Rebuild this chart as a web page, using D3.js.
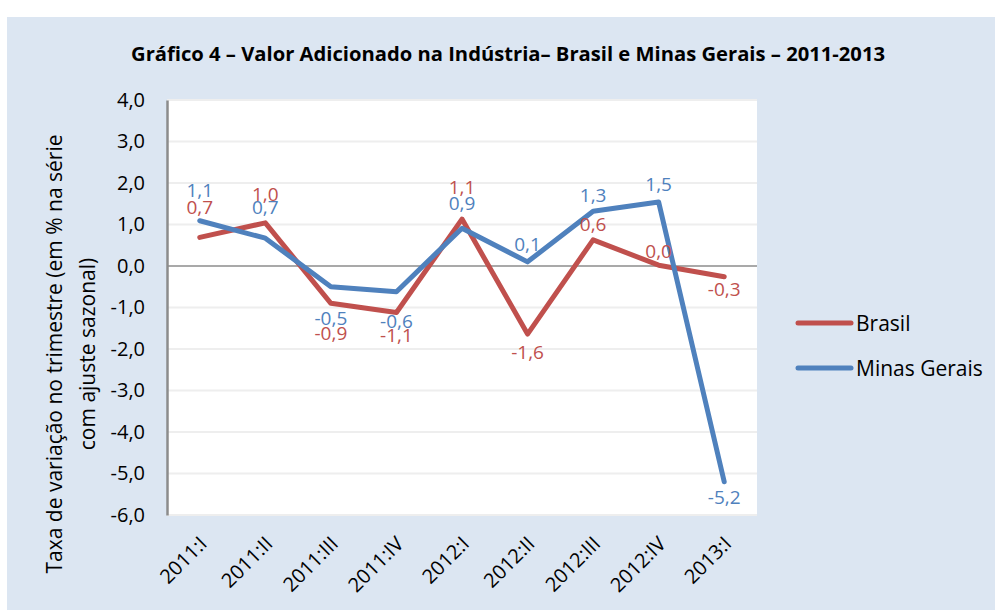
<!DOCTYPE html>
<html>
<head>
<meta charset="utf-8">
<script src="https://cdn.jsdelivr.net/npm/d3@7"></script>
<style>
  body { margin: 0; background: #ffffff; }
  svg text { font-family: "Open Sans", Lato, sans-serif; }
</style>
</head>
<body>
<div id="chart"></div>
<script>
////// DATA
var categories = ["2011:I", "2011:II", "2011:III", "2011:IV", "2012:I", "2012:II", "2012:III", "2012:IV", "2013:I"];
var brasil = [0.69, 1.04, -0.90, -1.12, 1.13, -1.64, 0.63, 0.02, -0.26];
var minas = [1.09, 0.67, -0.50, -0.62, 0.91, 0.10, 1.32, 1.54, -5.20];
var yTicks = [4, 3, 2, 1, 0, -1, -2, -3, -4, -5, -6];

// label offsets (px, + means below the point)
var brasilLabelDy = [-30, -29, 30, 23, -32, 18, -16, -14, 12];
var minasLabelDy = [-31, -31, 31, 29, -25, -18, -16, -18, 15];

////// SETUP SVG
var W = 995, H = 613;
var margin = { top: 100, right: 238, bottom: 98, left: 167 },
    width = W - margin.left - margin.right,
    height = H - margin.top - margin.bottom;

var svg = d3.select("#chart")
    .append("svg")
    .attr("width", W)
    .attr("height", H);

// blue chart area
svg.append("rect")
    .attr("x", 7).attr("y", 17)
    .attr("width", W - 7).attr("height", 593)
    .attr("fill", "#dce6f2");

var br = d3.formatLocale({ decimal: ",", thousands: ".", grouping: [3], currency: ["R$", ""], minus: "-" });
var fmt = br.format(".1f");

var x = d3.scalePoint()
    .domain(categories)
    .range([margin.left, margin.left + width])
    .padding(0.5);

var y = d3.scaleLinear()
    .domain([-6, 4])
    .range([margin.top + height, margin.top]);

// white plot area
svg.append("rect")
    .attr("x", margin.left).attr("y", margin.top)
    .attr("width", width).attr("height", height)
    .attr("fill", "#ffffff");

// gridlines
svg.append("g")
    .selectAll("line")
    .data(yTicks.filter(d => d !== 0))
    .enter().append("line")
    .attr("x1", margin.left).attr("x2", margin.left + width)
    .attr("y1", d => y(d)).attr("y2", d => y(d))
    .attr("stroke", "#eeeeee")
    .attr("stroke-width", 2);

// zero line
svg.append("line")
    .attr("x1", margin.left).attr("x2", margin.left + width)
    .attr("y1", y(0)).attr("y2", y(0))
    .attr("stroke", "#8c8c8c")
    .attr("stroke-width", 1.5);

////// Y AXIS
var yAxis = svg.append("g")
    .attr("transform", "translate(" + margin.left + ",0)")
    .call(d3.axisLeft(y).tickValues(yTicks).tickFormat(fmt).tickSize(0).tickPadding(22));
yAxis.select(".domain").attr("stroke", "#8c8c8c").attr("stroke-width", 2.5);
yAxis.selectAll("text")
    .attr("font-size", "20px")
    .attr("fill", "#000");

////// X AXIS
var xAxis = svg.append("g")
    .attr("transform", "translate(0," + (margin.top + height) + ")")
    .call(d3.axisBottom(x).tickSize(0));
xAxis.select(".domain").remove();
xAxis.selectAll("text")
    .attr("font-size", "20px")
    .attr("fill", "#000")
    .style("text-anchor", "end")
    .attr("dy", "0")
    .attr("y", 0)
    .attr("transform", "translate(8,30) rotate(-45)");

////// Y AXIS TITLE
var yTitle = svg.append("text")
    .attr("transform", "translate(0,354) rotate(-90)")
    .attr("text-anchor", "middle")
    .attr("font-size", "21px")
    .attr("fill", "#000");
yTitle.append("tspan").attr("x", 0).attr("y", 62).text("Taxa de variação no trimestre (em % na série");
yTitle.append("tspan").attr("x", 0).attr("y", 95).text("com ajuste sazonal)");

////// TITLE
svg.append("text")
    .attr("x", 508).attr("y", 61)
    .attr("text-anchor", "middle")
    .attr("font-size", "20.2px")
    .attr("font-weight", "bold")
    .attr("fill", "#000")
    .text("Gráfico 4 – Valor Adicionado na Indústria– Brasil e Minas Gerais – 2011-2013");

////// LINES
var series = [
    { name: "Brasil", values: brasil, color: "#c0504d", dy: brasilLabelDy },
    { name: "Minas Gerais", values: minas, color: "#4f81bd", dy: minasLabelDy }
];

var line = d3.line()
    .x((d, i) => x(categories[i]))
    .y(d => y(d));

series.forEach(function(s) {
    svg.append("path")
        .datum(s.values)
        .attr("d", line)
        .attr("fill", "none")
        .attr("stroke", s.color)
        .attr("stroke-width", 5)
        .attr("stroke-linejoin", "round")
        .attr("stroke-linecap", "round");
});

// data labels
series.forEach(function(s) {
    svg.append("g")
        .selectAll("text")
        .data(s.values)
        .enter().append("text")
        .attr("x", (d, i) => x(categories[i]))
        .attr("y", (d, i) => y(d) + s.dy[i])
        .attr("dominant-baseline", "central")
        .attr("text-anchor", "middle")
        .attr("font-size", "19px")
        .attr("fill", s.color)
        .text(d => fmt(d));
});

////// LEGEND
var legend = svg.append("g")
    .selectAll("g")
    .data(series)
    .enter().append("g")
    .attr("transform", (d, i) => "translate(798," + (323 + i * 45) + ")");
legend.append("line")
    .attr("x1", 0).attr("x2", 53)
    .attr("stroke", d => d.color)
    .attr("stroke-width", 5)
    .attr("stroke-linecap", "round");
legend.append("text")
    .attr("x", 58)
    .attr("dominant-baseline", "central")
    .attr("font-size", "21px")
    .attr("fill", "#000")
    .text(d => d.name);
</script>
</body>
</html>
